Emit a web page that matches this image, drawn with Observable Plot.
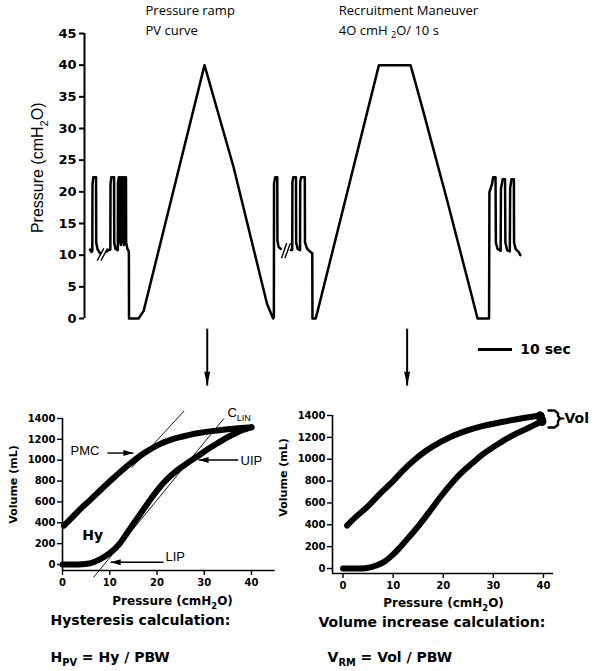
<!DOCTYPE html>
<html>
<head>
<meta charset="utf-8">
<script src="https://cdn.jsdelivr.net/npm/d3@7"></script>
<script src="https://cdn.jsdelivr.net/npm/@observablehq/plot@0.6"></script>
<style>
  body { margin: 0; background: #fff; }
  #wrap { position: relative; width: 596px; height: 671px; overflow: hidden; background: #fff; }
  .panel { position: absolute; }
</style>
</head>
<body>
<div id="wrap"></div>
<script>
// ---------------- DATA: top pressure trace (time in s, pressure in cmH2O) ----------------
const topTicks = [0, 5, 10, 15, 20, 25, 30, 35, 40, 45];
const topTimeDomain = [-0.6, 150];
const topPressureDomain = [0, 45];

// ventilation before the first break
const seg1 = [[1.0,10.9],[1.5,10.5],[1.7,10.7],[1.75,21.2],[2.0,22.3],[2.8,22.3],[2.85,12.0],[3.2,11.0],[3.6,10.6],[4.0,10.3]];
// ventilation, pressure ramp PV curve, first breath after
const seg2 = [[5.9,10.6],[6.5,10.8],[7.0,10.9],[7.05,21.2],[7.3,22.3],[8.1,22.3],[8.15,12.0],[8.5,11.0],[9.2,10.8],
  [9.25,21.5],[9.5,22.3],[9.9,22.3],[9.95,12.0],[10.1,11.6],[10.15,21.5],[10.4,22.3],[10.8,22.3],[10.85,12.0],
  [11.0,11.6],[11.05,21.5],[11.3,22.3],[11.6,22.3],[11.65,12.0],[12.0,11.0],[12.3,10.8],[12.45,10.4],[12.5,0],
  [15.3,0],[16.8,1.2],[34.7,40],[43.2,24.0],[53.1,2.3],[54.9,0],[55.1,0.3],[55.15,21.3],[55.5,22.3],
  [56.1,22.3],[56.15,12.3],[56.5,11.3],[57.1,11.0]];
// ventilation, recruitment maneuver 40 cmH2O / 10 s, ventilation
const seg3 = [[60.1,10.8],[60.5,10.8],[60.55,21.5],[60.8,22.3],[61.6,22.3],[61.65,12.0],[62.1,11.0],[62.8,10.8],
  [62.85,21.5],[63.1,22.3],[64.2,22.3],[64.25,12.0],[64.9,11.0],[65.9,10.5],[66.4,10.3],[66.45,0],[67.4,0],[67.9,1.0],
  [86.0,40],[95.3,40],[98.2,34.4],[106.1,18.6],[114.4,1.3],[115.0,0],[118.4,0],[118.5,19.9],[119.3,21.3],[119.6,22.3],
  [120.3,22.3],[120.4,12.0],[120.9,11.0],[121.8,10.7],[121.9,20.5],[122.4,22.0],[123.1,22.0],[123.2,12.0],[123.7,10.8],
  [124.5,10.6],[124.6,20.5],[125.0,22.0],[125.7,22.0],[125.75,12.0],[126.2,11.0],[127.1,10.5],[127.6,10.0]];
// "//" time-break marks
const breakMarks = [
  [[3.2,9.2],[5.0,11.0]], [[4.3,9.2],[6.1,11.0]],
  [[57.4,9.6],[58.8,11.8]], [[58.4,9.6],[59.9,11.8]]
];
const phaseArrowTimes = [35.5, 94.3];
const phaseArrowPressures = [-1.6, -10.6];
const scaleBar = { from: 115.3, to: 125.3, at: -4.9, label: "10 sec" };
const topTitles = [
  { t: 17.35, p: 48.55, text: "Pressure ramp" },
  { t: 17.35, p: 45.5, text: "PV curve" },
  { t: 74.2, p: 48.55, text: "Recruitment Maneuver" },
  { t: 74.2, p: 45.5, text: "4O cmH _{2}O/ 10 s" }
];
const topYLabel = { t: -14.4, p: 23.8, text: "Pressure (cmH_{2}O)" };

// ---------------- DATA: bottom PV curves (pressure cmH2O, volume mL) ----------------
const volTicks = [0, 200, 400, 600, 800, 1000, 1200, 1400];
const presTicks = [0, 10, 20, 30, 40];
const leftDomainX = [0, 45], leftDomainY = [-57.5, 1400];
const rightDomainX = [-2.1, 42], rightDomainY = [-45.7, 1400];

const pvInflation = [[0,0],[2,0],[4,2],[6,14],[8,52],[10,108],[12,195],[13.5,290],[15,390],[16.5,486],[18,585],[20,709],
  [22,812],[24.3,905],[26.5,975],[28.5,1035],[30.5,1098],[32.7,1160],[34.5,1210],[36.3,1252],[38,1287],[40,1316]];
const pvDeflation = [[0.3,372],[2,450],[3.8,534],[6,625],[8,712],[10.2,805],[12.5,900],[15.1,997],[17.5,1075],[20.7,1157],
  [23.5,1205],[26.4,1238],[29.5,1265],[32.7,1285],[36,1302],[40,1316]];
const tangentPMC = [[14.7,930],[25.7,1470]];
const tangentCLIN = [[6.6,-122],[34.1,1397]];
const pvArrows = [
  { x1: 9.5, x2: 15.0, y: 1069, dir: "right" },
  { x1: 37.2, x2: 28.8, y: 1002, dir: "left" },
  { x1: 21.4, x2: 10.2, y: 22, dir: "left" }
];
const pvLabels = [
  { p: 1.7, v: 1093, text: "PMC" },
  { p: 37.7, v: 997, text: "UIP" },
  { p: 21.8, v: 70, text: "LIP" },
  { p: 34.9, v: 1457, text: "C_{LIN}" }
];
const hyLabel = { p: 4.2, v: 278, text: "Hy" };
const leftTexts = {
  yLabel: { p: -10.45, v: 767, text: "Volume (mL)" },
  xLabel: { p: 23.3, v: -355, text: "Pressure (cmH_{2}O)" },
  heading: { p: -2.54, v: -537, text: "Hysteresis calculation:" },
  formula: { p: -2.54, v: -892, text: "H_{PV} = Hy / PBW" }
};

const rmDeflation = [[0.8,393],[2.5,470],[4.8,561],[7.5,690],[10.1,805],[12,898],[14.1,988],[16.5,1075],[19.4,1156],
  [22,1215],[24.7,1262],[28,1305],[31.4,1338],[34.7,1366],[38,1391],[39.6,1400]];
const rmInflation = [[0,0],[2,0],[4.8,5],[6.5,25],[8.1,58],[9.8,120],[11.4,195],[13.4,300],[15.4,409],[17.4,530],[19.4,652],
  [21.4,765],[23.4,866],[25.7,960],[28,1049],[30.3,1120],[32.6,1186],[34.6,1235],[36.6,1278],[38,1310],[39.6,1345]];
const rmEndCluster = [[39.3,1398],[39.7,1345]];
const volBracket = [[41.0,1446],[42.2,1446],[42.9,1420],[42.9,1395],[43.3,1372],[42.9,1349],[42.9,1315],[42.2,1290],[41.0,1290]];
const volBracketNub = [[43.3,1372],[44.0,1372]];
const rightTexts = {
  yLabel: { p: -11.9, v: 833, text: "Volume (mL)" },
  xLabel: { p: 20.06, v: -320, text: "Pressure (cmH_{2}O)" },
  heading: { p: -4.89, v: -494, text: "Volume increase calculation:" },
  formula: { p: -3.09, v: -814, text: "V_{RM} = Vol / PBW" },
  vol: { p: 44.2, v: 1372, text: "Vol" }
};

(function () {
// ---------------- helpers ----------------
const X = d => d[0], Y = d => d[1];
const BOLD = "DejaVu Sans";
function tri(dir, L, W) {
  return { draw(ctx) {
    if (dir === "down") { ctx.moveTo(0, 0); ctx.lineTo(-W, -L); ctx.lineTo(W, -L); }
    else if (dir === "right") { ctx.moveTo(0, 0); ctx.lineTo(-L, -W); ctx.lineTo(-L, W); }
    else { ctx.moveTo(0, 0); ctx.lineTo(L, -W); ctx.lineTo(L, W); }
    ctx.closePath();
  } };
}
function applySubs(svg) {
  svg.querySelectorAll("text").forEach(el => {
    if (el.querySelector("tspan")) return;
    const s = el.textContent;
    if (!s.includes("_{")) return;
    const fs = parseFloat(getComputedStyle(el).fontSize) || 12;
    const shift = fs * 0.3;
    el.textContent = "";
    let shifted = false;
    const add = (txt, sub) => {
      const ts = document.createElementNS("http://www.w3.org/2000/svg", "tspan");
      ts.textContent = txt;
      if (sub) { ts.setAttribute("font-size", (fs * 0.7).toFixed(1)); ts.setAttribute("dy", shift.toFixed(1)); shifted = true; }
      else if (shifted) { ts.setAttribute("dy", (-shift).toFixed(1)); shifted = false; }
      el.appendChild(ts);
    };
    const re = /_\{([^}]*)\}/g; let last = 0, m;
    while ((m = re.exec(s))) { if (m.index > last) add(s.slice(last, m.index), false); add(m[1], true); last = re.lastIndex; }
    if (last < s.length) add(s.slice(last), false);
  });
}
const wrap = document.getElementById("wrap");
function place(svg, left, topPx) {
  const d = document.createElement("div");
  d.className = "panel"; d.style.left = left + "px"; d.style.top = topPx + "px";
  d.appendChild(svg); wrap.appendChild(d); applySubs(svg);
}

// ---------------- top chart ----------------
const traceRows = [];
[seg1, seg2, seg3].forEach((s, i) => s.forEach(([t, p]) => traceRows.push({ t, p, seg: i })));
const breakRows = [];
breakMarks.forEach((s, i) => s.forEach(([t, p]) => breakRows.push({ t, p, seg: i })));

const topChart = Plot.plot({
  width: 596, height: 390, marginLeft: 84, marginRight: 0, marginTop: 33, marginBottom: 72,
  x: { domain: topTimeDomain, axis: null },
  y: { domain: topPressureDomain, label: null },
  style: { background: "transparent", overflow: "visible", fontFamily: BOLD, color: "black" },
  marks: [
    Plot.ruleX([topTimeDomain[0]], { y1: topPressureDomain[0], y2: topPressureDomain[1], strokeWidth: 2 }),
    Plot.axisY(topTicks, { tickSize: 5, tickPadding: 3, fontSize: 13, fontWeight: "bold", fontFamily: BOLD, strokeWidth: 2, label: null, tickFormat: d => String(d) }),
    Plot.line(traceRows, { x: "t", y: "p", z: "seg", stroke: "black", strokeWidth: 2.5, strokeLinejoin: "round" }),
    Plot.line(breakRows, { x: "t", y: "p", z: "seg", stroke: "black", strokeWidth: 1.4 }),
    Plot.link(phaseArrowTimes, { x1: d => d, x2: d => d, y1: phaseArrowPressures[0], y2: phaseArrowPressures[1], strokeWidth: 2, stroke: "black" }),
    Plot.dot(phaseArrowTimes, { x: d => d, y: phaseArrowPressures[1], symbol: tri("down", 14, 3), r: 3, fill: "black", stroke: "none" }),
    Plot.ruleY([scaleBar.at], { x1: scaleBar.from, x2: scaleBar.to, strokeWidth: 3 }),
    Plot.text([scaleBar], { x: d => d.to + 2.3, y: "at", text: "label", textAnchor: "start", fontSize: 14, fontWeight: "bold", fontFamily: BOLD }),
    Plot.text(topTitles, { x: "t", y: "p", text: "text", textAnchor: "start", fontSize: 13, fontFamily: "Open Sans", fontWeight: "normal" }),
    Plot.text([topYLabel], { x: "t", y: "p", text: "text", rotate: -90, fontSize: 16, fontFamily: "Liberation Sans", fontWeight: "normal" })
  ]
});
place(topChart, 0, 0);

// ---------------- bottom-left chart (PV curve / hysteresis) ----------------
const bl = Plot.plot({
  width: 280, height: 281, marginLeft: 62, marginRight: 5.4, marginTop: 28, marginBottom: 101,
  x: { domain: leftDomainX, label: null },
  y: { domain: leftDomainY, label: null },
  style: { background: "transparent", overflow: "visible", fontFamily: BOLD, color: "black" },
  marks: [
    Plot.ruleX([leftDomainX[0]], { y1: leftDomainY[0], y2: volTicks[volTicks.length - 1], strokeWidth: 1.6 }),
    Plot.ruleY([leftDomainY[0]], { x1: leftDomainX[0], x2: leftDomainX[1], strokeWidth: 1.6 }),
    Plot.axisY(volTicks, { tickSize: 5, tickPadding: 2, fontSize: 10, fontWeight: "bold", fontFamily: BOLD, strokeWidth: 1.4, label: null, tickFormat: d => String(d) }),
    Plot.axisX(presTicks, { tickSize: 5, tickPadding: 3, fontSize: 10, fontWeight: "bold", fontFamily: BOLD, strokeWidth: 1.4, label: null, tickFormat: d => String(d) }),
    Plot.line(tangentPMC, { x: X, y: Y, strokeWidth: 0.9 }),
    Plot.line(tangentCLIN, { x: X, y: Y, strokeWidth: 0.9 }),
    Plot.line(pvInflation, { x: X, y: Y, strokeWidth: 6, curve: "catmull-rom", strokeLinecap: "round" }),
    Plot.line(pvDeflation, { x: X, y: Y, strokeWidth: 6, curve: "catmull-rom", strokeLinecap: "round" }),
    Plot.link(pvArrows, { x1: "x1", x2: "x2", y1: "y", y2: "y", strokeWidth: 1.4 }),
    Plot.dot(pvArrows.filter(d => d.dir === "right"), { x: "x2", y: "y", symbol: tri("right", 10, 3), r: 3, fill: "black", stroke: "none" }),
    Plot.dot(pvArrows.filter(d => d.dir === "left"), { x: "x2", y: "y", symbol: tri("left", 10, 3), r: 3, fill: "black", stroke: "none" }),
    Plot.text(pvLabels, { x: "p", y: "v", text: "text", textAnchor: "start", fontSize: 13, fontFamily: "Liberation Sans", fontWeight: "normal" }),
    Plot.text([hyLabel], { x: "p", y: "v", text: "text", textAnchor: "start", fontSize: 14, fontWeight: "bold", fontFamily: BOLD }),
    Plot.text([leftTexts.yLabel], { x: "p", y: "v", text: "text", rotate: -90, fontSize: 11, fontWeight: "bold", fontFamily: BOLD }),
    Plot.text([leftTexts.xLabel], { x: "p", y: "v", text: "text", fontSize: 12, fontWeight: "bold", fontFamily: BOLD }),
    Plot.text([leftTexts.heading, leftTexts.formula], { x: "p", y: "v", text: "text", textAnchor: "start", fontSize: 14, fontWeight: "bold", fontFamily: BOLD })
  ]
});
place(bl, 0, 390);

// ---------------- bottom-right chart (recruitment maneuver volume) ----------------
const br = Plot.plot({
  width: 326, height: 281, marginLeft: 62, marginRight: 43, marginTop: 25, marginBottom: 98,
  x: { domain: rightDomainX, label: null },
  y: { domain: rightDomainY, label: null },
  style: { background: "transparent", overflow: "visible", fontFamily: BOLD, color: "black" },
  marks: [
    Plot.ruleX([rightDomainX[0]], { y1: rightDomainY[0], y2: volTicks[volTicks.length - 1], strokeWidth: 1.6 }),
    Plot.ruleY([rightDomainY[0]], { x1: rightDomainX[0], x2: rightDomainX[1], strokeWidth: 1.6 }),
    Plot.axisY(volTicks, { tickSize: 5, tickPadding: 2, fontSize: 10, fontWeight: "bold", fontFamily: BOLD, strokeWidth: 1.4, label: null, tickFormat: d => String(d) }),
    Plot.axisX(presTicks, { tickSize: 5, tickPadding: 3, fontSize: 10, fontWeight: "bold", fontFamily: BOLD, strokeWidth: 1.4, label: null, tickFormat: d => String(d) }),
    Plot.line(rmInflation, { x: X, y: Y, strokeWidth: 6, curve: "catmull-rom", strokeLinecap: "round" }),
    Plot.line(rmDeflation, { x: X, y: Y, strokeWidth: 6, curve: "catmull-rom", strokeLinecap: "round" }),
    Plot.line(rmEndCluster, { x: X, y: Y, strokeWidth: 9, strokeLinecap: "round" }),
    Plot.line(volBracket, { x: X, y: Y, strokeWidth: 2.4, strokeLinejoin: "round", curve: "linear" }),
    Plot.line(volBracketNub, { x: X, y: Y, strokeWidth: 2 }),
    Plot.text([rightTexts.vol], { x: "p", y: "v", text: "text", textAnchor: "start", fontSize: 14, fontWeight: "bold", fontFamily: BOLD }),
    Plot.text([rightTexts.yLabel], { x: "p", y: "v", text: "text", rotate: -90, fontSize: 11, fontWeight: "bold", fontFamily: BOLD }),
    Plot.text([rightTexts.xLabel], { x: "p", y: "v", text: "text", fontSize: 12, fontWeight: "bold", fontFamily: BOLD }),
    Plot.text([rightTexts.heading, rightTexts.formula], { x: "p", y: "v", text: "text", textAnchor: "start", fontSize: 14, fontWeight: "bold", fontFamily: BOLD })
  ]
});
place(br, 270, 390);
})();
</script>
</body>
</html>
